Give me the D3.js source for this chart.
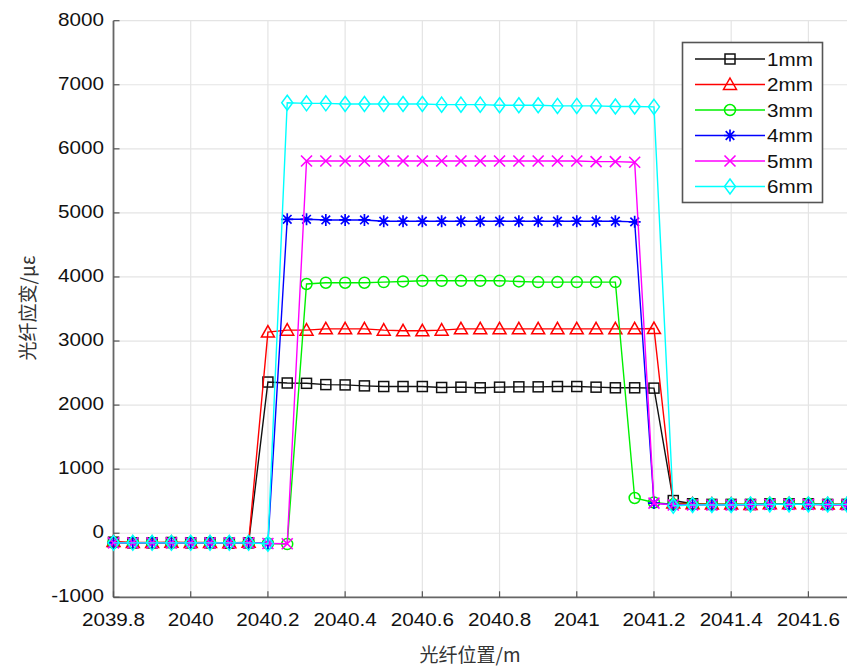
<!DOCTYPE html>
<html><head><meta charset="utf-8">
<script src="https://cdn.jsdelivr.net/npm/d3@7"></script>
<style>body{margin:0;background:#fff}svg{display:block}</style>
</head><body>
<script>
const positions = [2039.8,2039.85,2039.9,2039.95,2040,2040.05,2040.1,2040.15,2040.2,2040.25,2040.3,2040.35,2040.4,2040.45,2040.5,2040.55,2040.6,2040.65,2040.7,2040.75,2040.8,2040.85,2040.9,2040.95,2041,2041.05,2041.1,2041.15,2041.2,2041.25,2041.3,2041.35,2041.4,2041.45,2041.5,2041.55,2041.6,2041.65,2041.7];
const seriesNames = ["1mm","2mm","3mm","4mm","5mm","6mm"];
const s1mm = [-140,-150,-150,-145,-150,-150,-155,-150, 2360,2345,2340,2320,2315,2300,2290,2290,2290,2275,2280,2270,2280,2285,2285,2290,2290,2280,2270,2270,2265, 510,460,450,450,450,460,460,460,450,450];
const s2mm = [-130,-145,-145,-140,-145,-145,-150,-140, 3140,3170,3170,3190,3190,3190,3170,3160,3160,3170,3190,3190,3190,3190,3190,3190,3190,3190,3190,3190,3195, 470,460,455,455,450,460,460,460,455,455];
const s3mm = [-150,-150,-150,-150,-150,-150,-150,-150,-160,-170, 3890,3910,3910,3910,3920,3930,3940,3940,3940,3940,3940,3930,3920,3920,3920,3920,3920, 550,480, 450,450,450,450,450,460,460,460,450,450];
const s4mm = [-150,-150,-150,-150,-150,-150,-150,-150,-160, 4900,4900,4890,4890,4890,4870,4870,4870,4870,4870,4870,4870,4870,4870,4870,4870,4870,4870,4860, 470, 445,445,445,445,445,450,450,450,445,445];
const s5mm = [-150,-150,-150,-150,-150,-150,-150,-150,-160,-165, 5810,5810,5810,5810,5810,5810,5810,5810,5810,5810,5810,5810,5810,5810,5810,5800,5800,5790, 470, 440,440,440,440,445,450,450,450,445,445];
const s6mm = [-150,-150,-150,-150,-150,-150,-150,-150,-165, 6720,6710,6710,6700,6700,6700,6700,6700,6690,6690,6690,6680,6680,6680,6670,6670,6670,6660,6660,6655, 430,440,440,440,450,450,450,450,450,450];
const xTicks = [2039.8,2040,2040.2,2040.4,2040.6,2040.8,2041,2041.2,2041.4,2041.6];
const xTickLabels = ["2039.8","2040","2040.2","2040.4","2040.6","2040.8","2041","2041.2","2041.4","2041.6"];
const yTicks = [-1000,0,1000,2000,3000,4000,5000,6000,7000,8000];
const xTitle = "光纤位置/m";
const yTitle = "光纤应变/με";

const colors = ["#111111","#ff0000","#00f000","#0000ff","#ff00ff","#00ffff"];
const markers = ["square","triangle","circle","asterisk","cross","diamond"];
const allSeries = [s1mm,s2mm,s3mm,s4mm,s5mm,s6mm];

const W = 847, H = 668;
const svg = d3.select("body").append("svg").attr("width", W).attr("height", H);
svg.append("rect").attr("width", W).attr("height", H).attr("fill", "#fff");

const x = d3.scaleLinear().domain([2039.8, 2041.7]).range([113.5, 847]);
const y = d3.scaleLinear().domain([-1000, 8000]).range([597.3, 20.7]);

const FONT = "'Liberation Sans', Arial, sans-serif";
function stretchedText(parent, px, py, str, anchor, size) {
  const g = parent.append("g").attr("transform", `translate(${px},${py}) scale(1.18,1)`);
  g.append("text").attr("x", 0).attr("y", 0).attr("text-anchor", anchor)
    .attr("font-family", FONT).attr("font-size", size || 17.5).attr("fill", "#111").text(str);
}

// grid
const grid = svg.append("g");
xTicks.forEach(t => grid.append("line").attr("x1", x(t)).attr("x2", x(t)).attr("y1", y(8000)).attr("y2", y(-1000))
  .attr("stroke", "#e4e4e4").attr("stroke-width", 1.2));
yTicks.forEach(t => grid.append("line").attr("x1", x(2039.8)).attr("x2", W).attr("y1", y(t)).attr("y2", y(t))
  .attr("stroke", "#e4e4e4").attr("stroke-width", 1.2));

// axes
const ax = svg.append("g");
ax.append("line").attr("x1", x(2039.8)).attr("x2", x(2039.8)).attr("y1", y(8000)).attr("y2", y(-1000))
  .attr("stroke", "#666").attr("stroke-width", 1.8);
ax.append("line").attr("x1", x(2039.8)).attr("x2", W).attr("y1", y(-1000)).attr("y2", y(-1000))
  .attr("stroke", "#666").attr("stroke-width", 1.8);
xTicks.forEach(t => ax.append("line").attr("x1", x(t)).attr("x2", x(t)).attr("y1", y(-1000)).attr("y2", y(-1000) - 6)
  .attr("stroke", "#555").attr("stroke-width", 1.2));
yTicks.forEach(t => ax.append("line").attr("x1", x(2039.8)).attr("x2", x(2039.8) + 6).attr("y1", y(t)).attr("y2", y(t))
  .attr("stroke", "#555").attr("stroke-width", 1.2));

xTicks.forEach((t, i) => stretchedText(svg, x(t), 626, xTickLabels[i], "middle"));
yTicks.forEach(t => stretchedText(svg, 104, y(t) + 5, String(t), "end"));

// titles
svg.append("text").attr("x", 470).attr("y", 662).attr("text-anchor", "middle")
  .attr("font-family", "'Noto Sans CJK SC', sans-serif").attr("font-size", 19).attr("fill", "#333").text(xTitle);
svg.append("text").attr("transform", "translate(35,308) rotate(-90)").attr("text-anchor", "middle")
  .attr("font-family", "'Noto Sans CJK SC', sans-serif").attr("font-size", 19).attr("fill", "#333").text(yTitle);

function drawMarker(g, type, cx, cy, color) {
  const sw = 1.5;
  if (type === "square") {
    g.append("rect").attr("x", cx - 5).attr("y", cy - 5).attr("width", 10).attr("height", 10)
      .attr("fill", "none").attr("stroke", color).attr("stroke-width", sw);
  } else if (type === "triangle") {
    g.append("path").attr("d", `M${cx},${cy - 6.5}L${cx + 6.5},${cy + 5}L${cx - 6.5},${cy + 5}Z`)
      .attr("fill", "none").attr("stroke", color).attr("stroke-width", sw);
  } else if (type === "circle") {
    g.append("circle").attr("cx", cx).attr("cy", cy).attr("r", 5.5)
      .attr("fill", "none").attr("stroke", color).attr("stroke-width", sw);
  } else if (type === "asterisk") {
    const r = 6, d = 4.3;
    g.append("path").attr("d", `M${cx - r},${cy}H${cx + r}M${cx},${cy - r}V${cy + r}M${cx - d},${cy - d}L${cx + d},${cy + d}M${cx - d},${cy + d}L${cx + d},${cy - d}`)
      .attr("fill", "none").attr("stroke", color).attr("stroke-width", 1.7);
  } else if (type === "cross") {
    const d = 5.5;
    g.append("path").attr("d", `M${cx - d},${cy - d}L${cx + d},${cy + d}M${cx - d},${cy + d}L${cx + d},${cy - d}`)
      .attr("fill", "none").attr("stroke", color).attr("stroke-width", 1.6);
  } else if (type === "diamond") {
    g.append("path").attr("d", `M${cx},${cy - 7.5}L${cx + 5.5},${cy}L${cx},${cy + 7.5}L${cx - 5.5},${cy}Z`)
      .attr("fill", "none").attr("stroke", color).attr("stroke-width", sw);
  }
}

const line = d3.line().x((d, i) => x(positions[i])).y(d => y(d));
allSeries.forEach((vals, si) => {
  const g = svg.append("g");
  g.append("path").attr("d", line(vals)).attr("fill", "none").attr("stroke", colors[si]).attr("stroke-width", 1.4);
  vals.forEach((v, i) => drawMarker(g, markers[si], x(positions[i]), y(v), colors[si]));
});

// legend
const lg = svg.append("g");
lg.append("rect").attr("x", 682.5).attr("y", 42.5).attr("width", 140).attr("height", 160)
  .attr("fill", "#fff").attr("stroke", "#555").attr("stroke-width", 1.6);
seriesNames.forEach((n, i) => {
  const ly = 59 + i * 25.5;
  lg.append("line").attr("x1", 695).attr("x2", 765).attr("y1", ly).attr("y2", ly)
    .attr("stroke", colors[i]).attr("stroke-width", 1.4);
  drawMarker(lg, markers[i], 730, ly, colors[i]);
  stretchedText(lg, 767, ly + 6.5, n, "start", 17.5);
});
</script>
</body></html>
